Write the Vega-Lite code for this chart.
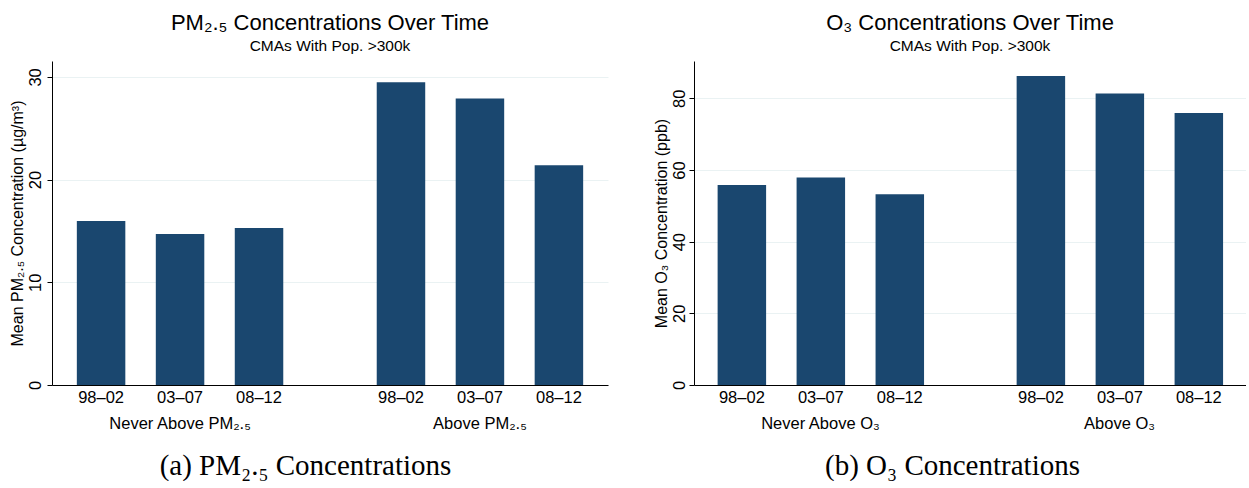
{
  "$schema": "https://vega.github.io/schema/vega-lite/v6.json",
  "background": "white",
  "padding": {"left": 9, "top": 11, "right": 0, "bottom": 0},
  "config": {
    "view": {"stroke": null},
    "font": "Liberation Sans",
    "title": {"font": "Liberation Sans", "fontSize": 22, "fontWeight": "normal", "color": "black", "subtitleFont": "Liberation Sans", "subtitleFontSize": 15.5, "subtitleColor": "black", "subtitlePadding": 4, "offset": 6, "anchor": "middle"},
    "axis": {"labelFont": "Liberation Sans", "titleFont": "Liberation Sans", "labelColor": "black", "titleColor": "black", "domainColor": "black", "tickColor": "black", "titleFontWeight": "normal", "labelFontSize": 16.5, "titleFontSize": 16}
  },
  "datasets": {
    "pm": [
      {"group": "Never Above PM₂.₅", "period": "98–02", "value": 15.97},
      {"group": "Never Above PM₂.₅", "period": "03–07", "value": 14.7},
      {"group": "Never Above PM₂.₅", "period": "08–12", "value": 15.3},
      {"group": "Above PM₂.₅", "period": "98–02", "value": 29.48},
      {"group": "Above PM₂.₅", "period": "03–07", "value": 27.9},
      {"group": "Above PM₂.₅", "period": "08–12", "value": 21.4}
    ],
    "o3": [
      {"group": "Never Above O₃", "period": "98–02", "value": 55.8},
      {"group": "Never Above O₃", "period": "03–07", "value": 57.9},
      {"group": "Never Above O₃", "period": "08–12", "value": 53.2},
      {"group": "Above O₃", "period": "98–02", "value": 86.2},
      {"group": "Above O₃", "period": "03–07", "value": 81.3},
      {"group": "Above O₃", "period": "08–12", "value": 75.9}
    ]
  },
  "spacing": 44,
  "hconcat": [
    {
      "data": {"name": "pm"},
      "width": 556,
      "height": 324,
      "title": {"text": "PM₂.₅ Concentrations Over Time", "subtitle": "CMAs With Pop. >300k"},
      "encoding": {
        "x": {"field": "group", "type": "nominal", "sort": null,
              "scale": {"paddingInner": 0.2, "paddingOuter": 0.027},
              "axis": {"title": "(a) PM₂.₅ Concentrations", "titleFont": "Liberation Serif", "titleFontSize": 29, "titleX": 253, "titlePadding": 20, "labelPadding": 30, "labelAngle": 0, "ticks": false, "grid": false}},
        "xOffset": {"field": "period", "type": "nominal", "sort": null,
                    "scale": {"paddingInner": 0.386, "paddingOuter": 0.212}}
      },
      "layer": [
        {
          "mark": {"type": "bar", "color": "#1a476f"},
          "encoding": {
            "y": {"field": "value", "type": "quantitative",
                  "scale": {"domain": [0, 31.55], "nice": false},
                  "axis": {"title": "Mean PM₂.₅ Concentration (µg/m³)", "values": [0, 10, 20, 30], "labelAngle": -90, "tickSize": 5, "gridColor": "#eaf2f3", "labelPadding": 4, "titlePadding": 2}}
          }
        },
        {
          "mark": {"type": "text", "baseline": "top", "dy": 5, "fontSize": 16.5, "color": "black", "font": "Liberation Sans"},
          "encoding": {"y": {"datum": 0}, "text": {"field": "period"}}
        }
      ]
    },
    {
      "data": {"name": "o3"},
      "width": 552,
      "height": 324,
      "title": {"text": "O₃ Concentrations Over Time", "subtitle": "CMAs With Pop. >300k"},
      "encoding": {
        "x": {"field": "group", "type": "nominal", "sort": null,
              "scale": {"paddingInner": 0.2, "paddingOuter": 0.023},
              "axis": {"title": "(b) O₃ Concentrations", "titleFont": "Liberation Serif", "titleFontSize": 29, "titleX": 258, "titlePadding": 20, "labelPadding": 30, "labelAngle": 0, "ticks": false, "grid": false}},
        "xOffset": {"field": "period", "type": "nominal", "sort": null,
                    "scale": {"paddingInner": 0.386, "paddingOuter": 0.207}}
      },
      "layer": [
        {
          "mark": {"type": "bar", "color": "#1a476f"},
          "encoding": {
            "y": {"field": "value", "type": "quantitative",
                  "scale": {"domain": [0, 90.4], "nice": false},
                  "axis": {"title": "Mean O₃ Concentration (ppb)", "values": [0, 20, 40, 60, 80], "labelAngle": -90, "tickSize": 5, "gridColor": "#eaf2f3", "labelPadding": 2, "titlePadding": 2}}
          }
        },
        {
          "mark": {"type": "text", "baseline": "top", "dy": 5, "fontSize": 16.5, "color": "black", "font": "Liberation Sans"},
          "encoding": {"y": {"datum": 0}, "text": {"field": "period"}}
        }
      ]
    }
  ]
}
